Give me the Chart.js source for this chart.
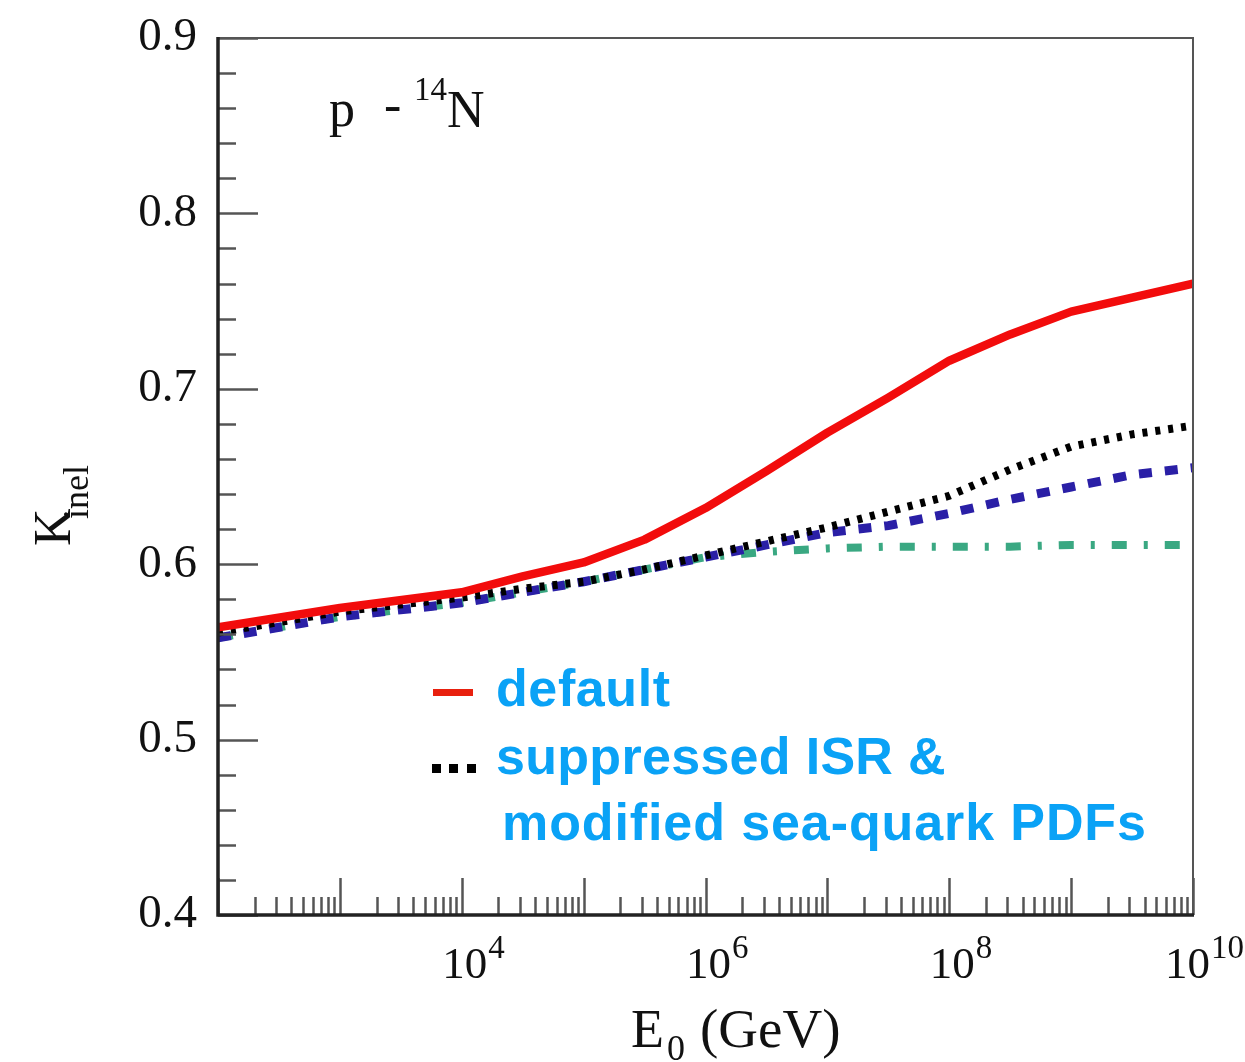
<!DOCTYPE html>
<html>
<head>
<meta charset="utf-8">
<script src="https://cdn.jsdelivr.net/npm/chart.js@4.4.1/dist/chart.umd.min.js"></script>
<style>
  html, body { margin: 0; padding: 0; background: #fff; }
  #wrap { width: 1245px; height: 1062px; }
</style>
</head>
<body>
<div id="wrap"><canvas id="c" width="1245" height="1062"></canvas></div>
<script>
// ---- data ----
const energies = [1e2, 1e3, 1e4, 3.16e4, 1e5, 3.16e5, 1e6, 3.16e6, 1e7, 3.16e7, 1e8, 3.16e8, 1e9, 3.16e9, 1e10];
const kDefault = [0.564, 0.575, 0.584, 0.593, 0.601, 0.614, 0.632, 0.653, 0.675, 0.695, 0.716, 0.731, 0.744, 0.752, 0.760];
const kSuppressed = [0.561, 0.573, 0.581, 0.586, 0.590, 0.597, 0.605, 0.613, 0.621, 0.630, 0.639, 0.654, 0.667, 0.674, 0.679];
const kBlue = [0.558, 0.570, 0.578, 0.584, 0.590, 0.597, 0.604, 0.611, 0.618, 0.622, 0.629, 0.637, 0.644, 0.651, 0.655];
const kGreen = [0.558, 0.570, 0.578, 0.584, 0.590, 0.597, 0.604, 0.607, 0.609, 0.610, 0.610, 0.610, 0.611, 0.611, 0.611];
const yTickValues = [0.4, 0.5, 0.6, 0.7, 0.8, 0.9];
const xTickExponents = [4, 6, 8, 10];
const legendLabels = ['default', 'suppressed ISR &', 'modified sea-quark PDFs'];
const panelLabel = ['p', '-', '14', 'N'];

const pts = arr => energies.map((e, i) => ({ x: e, y: arr[i] }));

const SERIF = '"Liberation Serif", "DejaVu Serif", serif';
const SANS = '"Liberation Sans", Arial, sans-serif';

const decorPlugin = {
  id: 'decor',
  afterDatasetsDraw(chart) {
    const ctx = chart.ctx;
    const xs = chart.scales.x, ys = chart.scales.y;
    const a = chart.chartArea;
    ctx.save();
    // y ticks (inward)
    ctx.strokeStyle = '#555';
    ctx.lineWidth = 2.5;
    for (let i = 0; i <= 25; i++) {
      const v = 0.4 + i * 0.02;
      const y = Math.round(ys.getPixelForValue(v)) + 0.5;
      const len = (i % 5 === 0) ? 40 : 18;
      ctx.beginPath(); ctx.moveTo(a.left, y); ctx.lineTo(a.left + len, y); ctx.stroke();
    }
    // x ticks (inward)
    for (let d = 2; d <= 10; d++) {
      for (let m = 1; m <= 9; m++) {
        const v = m * Math.pow(10, d);
        if (v > 1e10 * 1.0001) break;
        const x = Math.round(xs.getPixelForValue(v)) + 0.5;
        const len = (m === 1) ? 37 : 18;
        ctx.beginPath(); ctx.moveTo(x, a.bottom); ctx.lineTo(x, a.bottom - len); ctx.stroke();
      }
    }
    // frame
    ctx.strokeStyle = '#555'; ctx.lineWidth = 2;
    ctx.beginPath(); ctx.moveTo(a.left, a.top); ctx.lineTo(a.right, a.top); ctx.lineTo(a.right, a.bottom); ctx.stroke();
    ctx.strokeStyle = '#222'; ctx.lineWidth = 3.5;
    ctx.beginPath(); ctx.moveTo(a.left, a.top - 1); ctx.lineTo(a.left, a.bottom); ctx.lineTo(a.right + 1, a.bottom); ctx.stroke();

    // x tick labels 10^n
    ctx.fillStyle = '#111';
    ctx.textBaseline = 'alphabetic';
    ctx.textAlign = 'left';
    xTickExponents.forEach(n => {
      const x = xs.getPixelForValue(Math.pow(10, n));
      ctx.font = '45px ' + SERIF;
      const bw = ctx.measureText('10').width;
      ctx.font = '33px ' + SERIF;
      const ew = ctx.measureText(String(n)).width;
      let left = x - bw / 2 + 3;
      if (left + bw + ew > 1243) left = 1243 - bw - ew;
      ctx.font = '45px ' + SERIF;
      ctx.fillText('10', left, 978);
      ctx.font = '33px ' + SERIF;
      ctx.fillText(String(n), left + bw + 1, 958);
    });

    // x axis title E_0 (GeV)
    ctx.font = '54px ' + SERIF;
    ctx.fillText('E', 631, 1047);
    ctx.font = '36px ' + SERIF;
    ctx.fillText('0', 667, 1060);
    ctx.font = '55px ' + SERIF;
    ctx.fillText('(GeV)', 700, 1047);

    // y axis title K_inel (rotated)
    ctx.save();
    ctx.translate(70, 546);
    ctx.rotate(-Math.PI / 2);
    ctx.font = '52px ' + SERIF;
    ctx.fillText('K', 0, 0);
    ctx.font = '36px ' + SERIF;
    ctx.fillText('inel', 27, 18);
    ctx.restore();

    // panel label p - 14N
    ctx.font = '52px ' + SERIF;
    ctx.fillText(panelLabel[0], 329, 126);
    ctx.fillText(panelLabel[1], 384, 122);
    ctx.font = '33px ' + SERIF;
    ctx.fillText(panelLabel[2], 414, 100);
    ctx.font = '52px ' + SERIF;
    ctx.fillText(panelLabel[3], 447, 127);

    // legend
    ctx.fillStyle = '#e8200e';
    ctx.fillRect(433, 689, 40, 7);
    ctx.fillStyle = '#000';
    [432, 449, 467].forEach(x => ctx.fillRect(x, 764, 9, 9));
    ctx.fillStyle = '#0aa2f6';
    ctx.font = 'bold 52px ' + SANS;
    ctx.letterSpacing = '0.6px';
    ctx.fillText(legendLabels[0], 496, 706);
    ctx.letterSpacing = '0.3px';
    ctx.fillText(legendLabels[1], 496, 774);
    ctx.letterSpacing = '0.9px';
    ctx.fillText(legendLabels[2], 502, 840);
    ctx.letterSpacing = '0px';
    ctx.restore();
  }
};

new Chart(document.getElementById('c'), {
  type: 'line',
  data: {
    datasets: [
      { label: 'default', data: pts(kDefault), borderColor: '#f20c0c', borderWidth: 8.5, borderCapStyle: 'butt', borderJoinStyle: 'round', pointRadius: 0, tension: 0, order: 1 },
      { label: 'suppressed ISR & modified sea-quark PDFs', data: pts(kSuppressed), borderColor: '#000000', borderWidth: 8, borderDash: [5, 8], borderCapStyle: 'butt', pointRadius: 0, tension: 0, order: 2 },
      { label: 'blue', data: pts(kBlue), borderColor: '#2a1fa6', borderWidth: 9, borderDash: [13, 13], borderCapStyle: 'butt', pointRadius: 0, tension: 0, order: 3 },
      { label: 'green', data: pts(kGreen), borderColor: '#3aa882', borderWidth: 8, borderDash: [15, 17, 4, 17], borderCapStyle: 'butt', pointRadius: 0, tension: 0, order: 4 }
    ]
  },
  options: {
    responsive: false,
    animation: false,
    devicePixelRatio: 1,
    layout: { padding: { top: 38, right: 52, left: 0, bottom: 0 } },
    plugins: { legend: { display: false }, tooltip: { enabled: false } },
    scales: {
      x: {
        type: 'logarithmic', min: 1e2, max: 1e10,
        ticks: { display: false },
        grid: { display: false, drawTicks: false },
        border: { display: false },
        afterFit: s => { s.height = 147; }
      },
      y: {
        type: 'linear', min: 0.4, max: 0.9,
        afterBuildTicks: s => { s.ticks = yTickValues.map(v => ({ value: v })); },
        ticks: {
          color: '#111', padding: 21,
          font: { family: SERIF, size: 47, lineHeight: 0.6 },
          callback: v => Number(v).toFixed(1)
        },
        grid: { display: false, drawTicks: false },
        border: { display: false },
        afterFit: s => { s.width = 218; }
      }
    }
  },
  plugins: [decorPlugin]
});
</script>
</body>
</html>
